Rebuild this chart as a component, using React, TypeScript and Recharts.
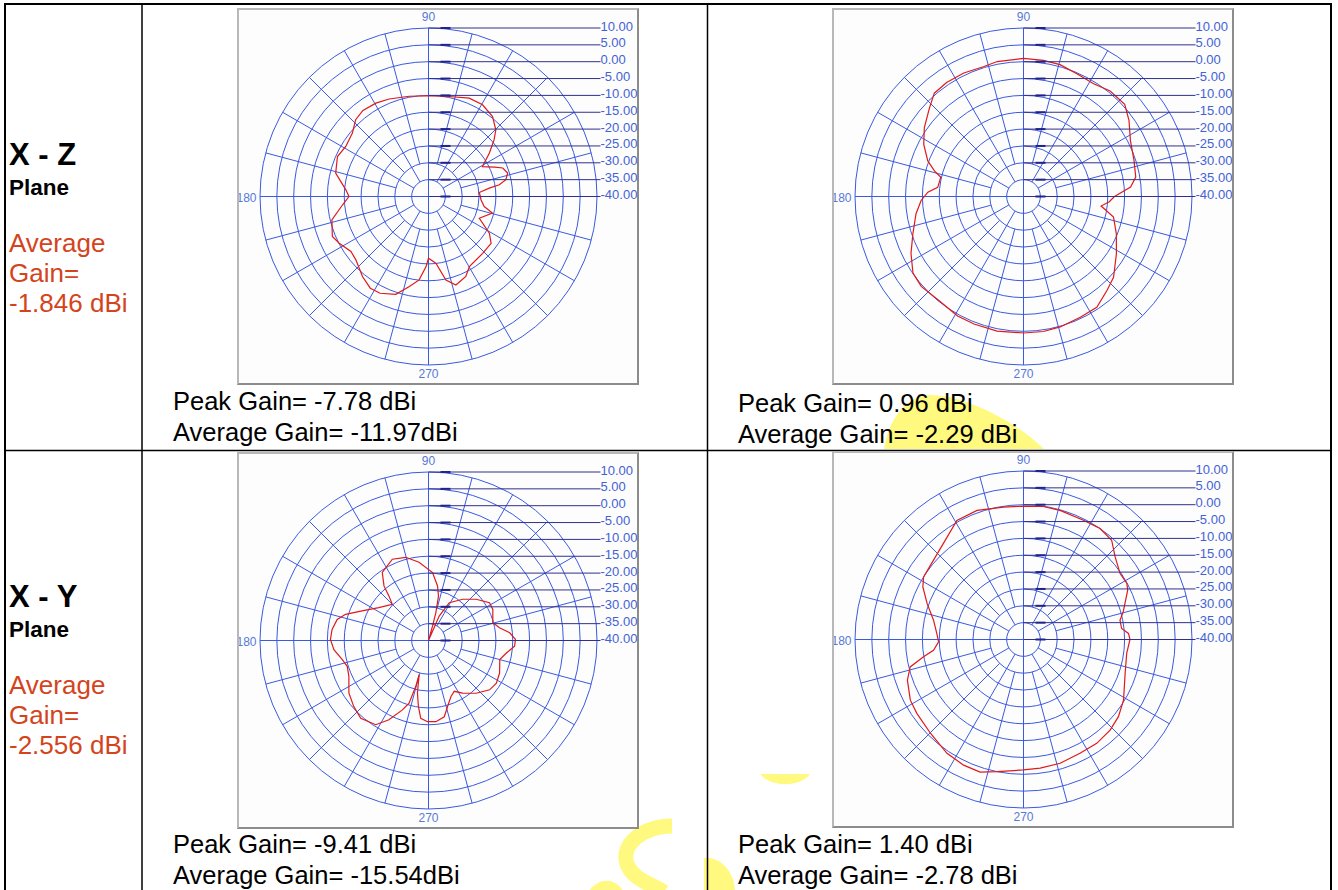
import React from "react";
import {
  RadarChart,
  Radar,
  PolarGrid,
  PolarAngleAxis,
  PolarRadiusAxis,
} from "recharts";

// dB rings: -40 dB sits at the centre, 10 dB on the rim
const GAIN_TICKS = [-40, -35, -30, -25, -20, -15, -10, -5, 0, 5, 10];
const AXIS_ANGLES = [0, 90, 180, 270];
const ANGLE_LABELS = [90, 180, 270];

// measured patterns, [angle in degrees, gain in dBi]
const XZ_LEFT: [number, number][] = [
  [0, -24.6], [4.5, -24.9], [7.8, -21.8], [9.4, -18.7], [12.2, -16.5],
  [16.5, -15.5], [21, -16.4], [24, -18.5], [29, -21.7], [31, -20.7],
  [35.5, -17.8], [40.8, -14.3], [44.7, -11.9], [51.3, -9.6], [59.5, -8.4],
  [67.5, -8.4], [78.3, -9.7], [90, -10.1], [100.9, -9.7], [112, -8.8],
  [119.4, -8.2], [127.3, -7.9], [133.5, -8.6], [140.2, -10.6], [148.8, -11.3],
  [156.3, -10.5], [165.9, -11.6], [175.4, -15.4], [180, -16.4], [185.5, -14.4],
  [193.6, -10.5], [202.6, -9.1], [207.6, -10.1], [215.3, -11.8], [221.1, -11.4],
  [230.5, -9.2], [237.6, -7.78], [243.4, -7.9], [251.5, -9.4], [258, -12.7],
  [263.6, -15.1], [268, -19.2], [270, -21.7], [276.3, -20.1], [281.8, -14.7],
  [287.2, -12.5], [295, -13.8], [300.2, -15.9], [313.6, -16.7], [323.2, -16.8],
  [328.9, -18.9], [336.8, -23.6], [345.4, -20.4], [349.8, -23.2], [356.4, -24.4],
];

const XZ_RIGHT: [number, number][] = [
  [0, -13.0], [5, -8.1], [9.8, -6.2], [18.1, -5.5], [27.6, -4.2],
  [35.8, -1.4], [42.3, 0.6], [50.6, 0.5], [58.1, -0.6], [66.5, -0.3],
  [74.5, 0.6], [81.7, 0.8], [90, 0.96], [101, 0.8], [107.2, 0.3],
  [115.8, 0.7], [124, 0.8], [130.8, 0.5], [136.8, -1.7], [145.3, -4.2],
  [152.4, -6.6], [159.6, -9.7], [163.9, -12.5], [166.9, -14.8], [173.9, -14.4],
  [177.4, -11.6], [182.2, -9.6], [189.1, -7.7], [198.5, -5.4], [206.8, -2.6],
  [214.7, -0.1], [221.3, 0.4], [230.2, -0.2], [241.1, 0.5], [248.8, 0.6],
  [258.9, 0.7], [270, 0.5], [278.4, 0.5], [285.7, 0.2], [295.2, -0.4],
  [303.5, -0.6], [311.6, -2.7], [318.1, -4.1], [328.3, -7.6], [338.1, -10.3],
  [347.1, -12.6], [350.5, -15.2], [353, -16.8], [356.5, -14.5],
];

const XY_LEFT: [number, number][] = [
  [0.7, -14.2], [5.4, -15.8], [10.2, -18.6], [15.4, -20.2], [25.8, -18.8],
  [31.8, -18.7], [40.9, -21.3], [50.3, -24.1], [61.2, -27.2], [66.3, -32.1],
  [70, -40], [74.4, -35.5], [75.2, -31.5], [77.3, -26.5], [80.6, -23.6],
  [86.6, -19.8], [96.9, -16.6], [105.3, -14.4], [114, -13.6], [124.2, -15.6],
  [129.2, -19.1], [131.6, -22.3], [135, -24.8], [146.5, -22.3], [156, -18.4],
  [162.5, -14.2], [167, -12.2], [173.5, -11.2], [179.4, -10.9], [185.5, -11.8],
  [192.5, -13.8], [197.6, -14.7], [204.2, -14.1], [213.4, -11.7], [221.5, -10.4],
  [228.9, -9.41], [237.9, -10.5], [243.5, -13.7], [249.4, -18], [252.8, -20.5],
  [254.5, -25.9], [254.6, -29.5], [258.1, -24.1], [261.3, -20.2], [264.3, -16.8],
  [269.3, -15.9], [275.2, -15.8], [281.7, -16.9], [286.1, -19.6], [291.9, -22.1],
  [296.9, -23.1], [303, -21.4], [312.1, -18.9], [321.1, -16.7], [327.8, -16.2],
  [335.4, -16.8], [345, -18.1], [350.9, -16.6], [356.2, -14.4],
];

const XY_RIGHT: [number, number][] = [
  [0, -8.4], [3.3, -8.8], [6.4, -10.7], [11.3, -10.8], [15.5, -9.3],
  [25.3, -5.8], [28.5, -5.1], [34.3, -5.3], [42, -3.4], [48.4, -0.6],
  [55.4, 0], [63.3, -0.4], [74.2, -0.2], [81.5, -0.1], [90, -0.4],
  [98.6, -0.3], [109.8, 0.7], [119.2, 0.5], [128.3, -2.5], [138.6, -4.4],
  [147.9, -5], [152.4, -6.3], [159.6, -9.5], [167.9, -12.7], [176, -14.2],
  [181.6, -14.8], [186.8, -13.1], [189.8, -9.9], [193.6, -5.4], [199.3, -3.5],
  [208.2, -1.9], [214.7, -1.5], [225.2, -0.8], [236.1, 0.7], [244.5, 1.3],
  [251.9, 1.4], [258.6, 0], [270, -1.3], [277.4, -1.5], [286.5, -1.7],
  [296.4, -2.3], [305.2, -2.3], [313.7, -2.8], [320.9, -3.7], [328.8, -5.3],
  [341.5, -8.2], [352.3, -9.1],
];

const BOX_W = 402;
const BOX_H = 377;
const CX = 191.5;
const CY = 188.5;
const R = 168.5;

const GRID = "#3a5ae0";
const FONT = "'Liberation Sans', Arial, sans-serif";
const WATERMARK = "#fff980";

const toRad = (deg: number) => (deg * Math.PI) / 180;

// radial spokes every 15 deg; the 30 deg ones start at the first ring, the rest at the second
function Spokes() {
  const lines = [];
  for (let a = 15; a < 360; a += 15) {
    if (a % 90 === 0) continue;
    const r0 = a % 30 === 0 ? R / 10 : (2 * R) / 10;
    lines.push(
      <line
        key={a}
        x1={CX + r0 * Math.cos(toRad(a))}
        y1={CY - r0 * Math.sin(toRad(a))}
        x2={CX + R * Math.cos(toRad(a))}
        y2={CY - R * Math.sin(toRad(a))}
        stroke={GRID}
        strokeWidth={1}
      />
    );
  }
  return <g>{lines}</g>;
}

function AngleLabels() {
  return (
    <g fontFamily={FONT} fontSize={12} fill="#5878d8">
      {ANGLE_LABELS.map((a) => {
        if (a === 90)
          return (
            <text key={a} x={CX} y={CY - 180} textAnchor="middle" dominantBaseline="central">
              {a}
            </text>
          );
        if (a === 180)
          return (
            <text key={a} x={CX - 172} y={CY + 1} textAnchor="end" dominantBaseline="central">
              {a}
            </text>
          );
        return (
          <text key={a} x={CX} y={CY + 177} textAnchor="middle" dominantBaseline="central">
            {a}
          </text>
        );
      })}
    </g>
  );
}

// leader line from the 90 deg spoke out to the dB label on the right
function GainTick(props: any) {
  const { x, y, payload } = props;
  const labelX = x + 172;
  return (
    <g>
      <line x1={x} y1={y} x2={labelX} y2={y} stroke="#30308c" strokeWidth={1} />
      <line x1={x + 12} y1={y} x2={x + 22} y2={y} stroke="#22228a" strokeWidth={2} />
      <text
        x={labelX}
        y={y - 2}
        fontFamily={FONT}
        fontSize={13}
        fill="#4262d4"
        dominantBaseline="central"
      >
        {Number(payload.value).toFixed(2)}
      </text>
    </g>
  );
}

function PolarPlot({ left, top, pattern }: { left: number; top: number; pattern: [number, number][] }) {
  const data = pattern.map(([angle, gain]) => ({ angle, gain }));
  return (
    <div
      style={{
        position: "absolute",
        left,
        top,
        width: BOX_W,
        height: BOX_H,
        background: "#fdfdfd",
      }}
    >
      <svg width={BOX_W} height={BOX_H} style={{ position: "absolute", left: 0, top: 0 }}>
        <Spokes />
        <AngleLabels />
      </svg>
      <div style={{ position: "absolute", left: 0, top: 0 }}>
        <RadarChart
          width={BOX_W}
          height={BOX_H}
          data={data}
          cx={CX}
          cy={CY}
          innerRadius={0}
          outerRadius={R}
          startAngle={0}
          endAngle={360}
          margin={{ top: 0, right: 0, bottom: 0, left: 0 }}
        >
          <PolarGrid gridType="circle" polarAngles={AXIS_ANGLES} stroke={GRID} strokeWidth={1} />
          <PolarAngleAxis
            type="number"
            dataKey="angle"
            domain={[0, 360]}
            tick={false}
            axisLine={false}
            tickLine={false}
          />
          <PolarRadiusAxis
            angle={90}
            type="number"
            domain={[-40, 10]}
            ticks={GAIN_TICKS}
            tickCount={11}
            axisLine={false}
            tick={(p: any) => <GainTick {...p} />}
          />
          <Radar
            dataKey="gain"
            stroke="#e01a1a"
            strokeWidth={1.2}
            fill="none"
            fillOpacity={0}
            dot={false}
            isAnimationActive={false}
          />
        </RadarChart>
      </div>
      <div
        style={{
          position: "absolute",
          inset: 0,
          boxSizing: "border-box",
          borderStyle: "solid",
          borderWidth: 2,
          borderColor: "#b8b8b8 #8c8c8c #8c8c8c #b8b8b8",
          pointerEvents: "none",
        }}
      />
    </div>
  );
}

const RED = "#d4441c";

function PlaneLabel({ y0, plane, avg }: { y0: number; plane: string; avg: string }) {
  return (
    <g fontFamily={FONT}>
      <text x={9} y={y0} fontSize={31} fontWeight="bold" fill="#000">{plane}</text>
      <text x={9} y={y0 + 30} fontSize={22.5} fontWeight="bold" fill="#000">Plane</text>
      <text x={9} y={y0 + 87} fontSize={26} fill={RED}>Average</text>
      <text x={9} y={y0 + 117} fontSize={26} fill={RED}>Gain=</text>
      <text x={9} y={y0 + 147} fontSize={26} fill={RED}>{avg}</text>
    </g>
  );
}

function GainText({ x, y0, peak, avg }: { x: number; y0: number; peak: string; avg: string }) {
  return (
    <g fontFamily={FONT} fontSize={25.5} fill="#000">
      <text x={x} y={y0}>{peak}</text>
      <text x={x} y={y0 + 31}>{avg}</text>
    </g>
  );
}

// pieces of the pale yellow page stamp that show between the plot boxes
function Stamp() {
  return (
    <g fill={WATERMARK} stroke="none">
      <path d="M 884 449 C 888 422, 904 397, 928 395 C 962 394, 1014 420, 1044 449 Z" />
      <path
        d="M 672 826 C 645 826, 620 843, 627 864 C 633 880, 652 884, 664 892"
        fill="none"
        stroke={WATERMARK}
        strokeWidth={15}
      />
      <path d="M 588 892 C 598 878, 614 876, 624 892 Z" />
      <path d="M 704 858 C 720 856, 735 872, 735 892 L 704 892 Z" />
      <path d="M 760 774 C 770 787, 800 788, 810 774 Z" />
    </g>
  );
}

export default function App() {
  return (
    <div style={{ position: "absolute", left: 0, top: 0, width: 1338, height: 890, background: "#fff", overflow: "hidden" }}>
      <svg width={1338} height={890} style={{ position: "absolute", left: 0, top: 0 }}>
        <Stamp />
        <g stroke="#000" fill="none">
          <line x1={4} y1={4} x2={1332} y2={4} strokeWidth={2} />
          <line x1={5} y1={4} x2={5} y2={890} strokeWidth={2} />
          <line x1={1331} y1={4} x2={1331} y2={890} strokeWidth={2} />
          <line x1={142} y1={4} x2={142} y2={890} strokeWidth={1.5} />
          <line x1={707.5} y1={4} x2={707.5} y2={890} strokeWidth={1.5} />
          <line x1={5} y1={450.5} x2={1331} y2={450.5} strokeWidth={1.5} />
        </g>
        <PlaneLabel y0={165} plane="X - Z" avg="-1.846 dBi" />
        <PlaneLabel y0={607} plane="X - Y" avg="-2.556 dBi" />
        <GainText x={173} y0={410} peak="Peak Gain= -7.78 dBi" avg="Average Gain= -11.97dBi" />
        <GainText x={738} y0={412} peak="Peak Gain= 0.96 dBi" avg="Average Gain= -2.29 dBi" />
        <GainText x={173} y0={853} peak="Peak Gain= -9.41 dBi" avg="Average Gain= -15.54dBi" />
        <GainText x={738} y0={853} peak="Peak Gain= 1.40 dBi" avg="Average Gain= -2.78 dBi" />
      </svg>
      <PolarPlot left={237} top={8} pattern={XZ_LEFT} />
      <PolarPlot left={832} top={8} pattern={XZ_RIGHT} />
      <PolarPlot left={237} top={452} pattern={XY_LEFT} />
      <PolarPlot left={832} top={451} pattern={XY_RIGHT} />
    </div>
  );
}
